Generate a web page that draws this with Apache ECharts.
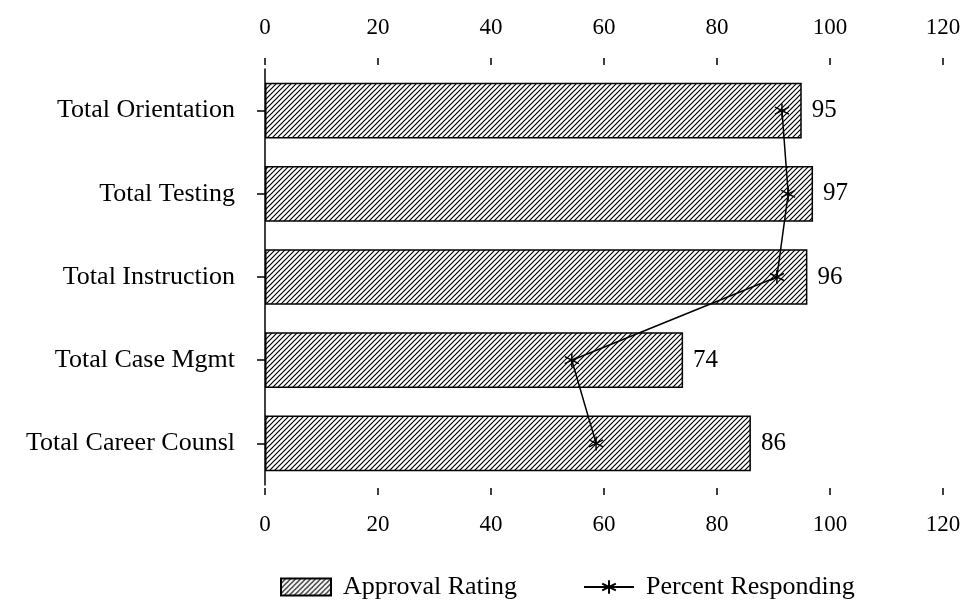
<!DOCTYPE html>
<html>
<head>
<meta charset="utf-8">
<script src="https://cdn.jsdelivr.net/npm/echarts@6/dist/echarts.min.js"></script>
<style>
  html, body { margin: 0; padding: 0; background: #fff; }
  #chart { width: 966px; height: 601px; }
</style>
</head>
<body>
<div id="chart"></div>
<script>
const categories = ['Total Orientation', 'Total Testing', 'Total Instruction', 'Total Case Mgmt', 'Total Career Counsl']
const approval = [95, 97, 96, 74, 86]
const responding = [91.5, 92.6, 90.6, 54.3, 58.6]
const ticks = [0, 20, 40, 60, 80, 100, 120]

const FONT = 'Liberation Serif'

// hatch pattern for the bars
function hatch() {
  const s = 5
  const c = document.createElement('canvas')
  c.width = s
  c.height = s
  const g = c.getContext('2d')
  g.fillStyle = '#fff'
  g.fillRect(0, 0, s, s)
  g.strokeStyle = '#000'
  g.lineWidth = 1.2
  g.beginPath()
  g.moveTo(0, s); g.lineTo(s, 0)
  g.moveTo(-1, 1); g.lineTo(1, -1)
  g.moveTo(s - 1, s + 1); g.lineTo(s + 1, s - 1)
  g.stroke()
  return c
}

const star = 'path://M0,-10L0,10M-8.66,-5L8.66,5M-8.66,5L8.66,-5'

const chart = echarts.init(document.getElementById('chart'))

const xBase = {
  type: 'value',
  min: ticks[0],
  max: ticks[ticks.length - 1],
  interval: 20,
  splitLine: { show: false },
  axisLine: { show: false },
  axisTick: { show: true, length: 7, lineStyle: { color: '#000', width: 1.5 } },
  axisLabel: { color: '#000', fontFamily: FONT, fontSize: 23 }
}

chart.setOption({
  animation: false,
  backgroundColor: '#fff',
  grid: { left: 265, right: 23, top: 69, height: 416 },
  xAxis: [
    Object.assign({}, xBase, { position: 'top', offset: 4, axisLabel: Object.assign({}, xBase.axisLabel, { margin: 26 }) }),
    Object.assign({}, xBase, { position: 'bottom', offset: 3, axisLabel: Object.assign({}, xBase.axisLabel, { margin: 25 }) })
  ],
  yAxis: {
    type: 'category',
    inverse: true,
    data: categories,
    axisLine: { show: true, lineStyle: { color: '#000', width: 1.5 } },
    axisTick: { show: true, alignWithLabel: true, length: 8, lineStyle: { color: '#000', width: 1.5 } },
    axisLabel: { color: '#000', fontFamily: FONT, fontSize: 26, margin: 30 }
  },
  legend: {
    left: 275,
    top: 569,
    itemWidth: 50,
    itemHeight: 17,
    itemGap: 66,
    textStyle: { color: '#000', fontFamily: FONT, fontSize: 26, padding: [0, 0, 0, 7] },
    data: [
      { name: 'Approval Rating', icon: 'rect' },
      { name: 'Percent Responding' }
    ]
  },
  series: [
    {
      name: 'Approval Rating',
      type: 'bar',
      xAxisIndex: 0,
      data: approval,
      barCategoryGap: '33%',
      itemStyle: {
        color: { image: hatch(), repeat: 'repeat' },
        borderColor: '#000',
        borderWidth: 1.5
      },
      label: {
        show: true,
        position: 'right',
        distance: 10,
        color: '#000',
        fontFamily: FONT,
        fontSize: 25
      }
    },
    {
      name: 'Percent Responding',
      type: 'line',
      xAxisIndex: 0,
      data: responding.map((v, i) => [v, categories[i]]),
      symbol: star,
      symbolSize: 14,
      lineStyle: { color: '#000', width: 1.5 },
      itemStyle: { color: '#000', borderColor: '#000', borderWidth: 1.5 }
    }
  ]
})
</script>
</body>
</html>
